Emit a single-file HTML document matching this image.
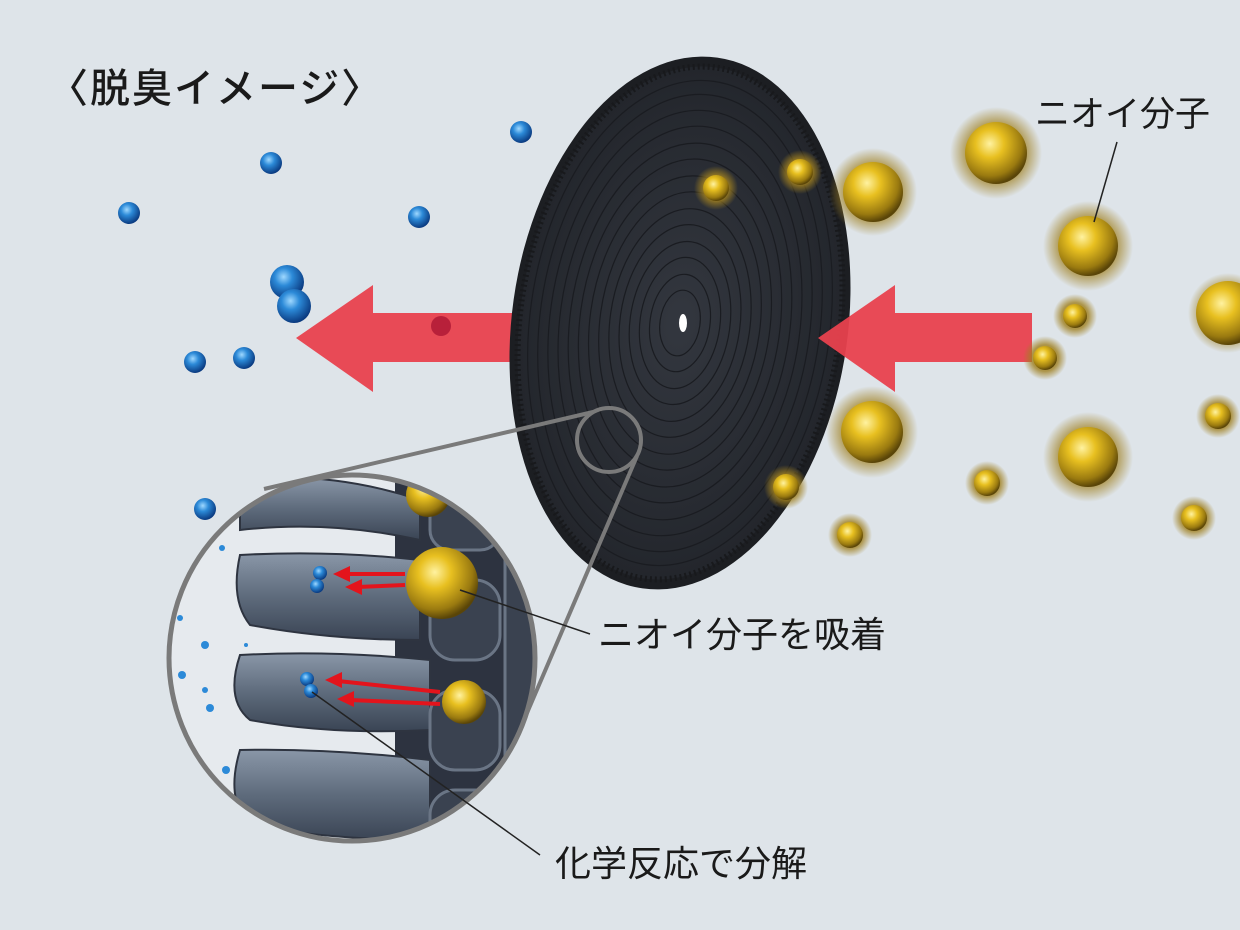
<!DOCTYPE html>
<html><head><meta charset="utf-8"><style>
html,body{margin:0;padding:0;background:#dee4e9;}
svg{display:block}
text{font-family:"Liberation Sans","Noto Sans CJK JP",sans-serif;fill:#1a1a1a}
</style></head><body>
<svg width="1240" height="930" viewBox="0 0 1240 930" xmlns="http://www.w3.org/2000/svg">
<defs>
<radialGradient id="gold" cx="0.4" cy="0.35" r="0.65">
<stop offset="0" stop-color="#fff2a0"/><stop offset="0.35" stop-color="#e8c020"/><stop offset="0.8" stop-color="#9a7a10"/><stop offset="1" stop-color="#5a4508"/></radialGradient>
<radialGradient id="halo" cx="0.5" cy="0.5" r="0.5">
<stop offset="0.6" stop-color="#a08020" stop-opacity="0.8"/><stop offset="1" stop-color="#a08020" stop-opacity="0"/></radialGradient>
<radialGradient id="blue" cx="0.4" cy="0.35" r="0.65">
<stop offset="0" stop-color="#9fd8ff"/><stop offset="0.4" stop-color="#2c8ad8"/><stop offset="1" stop-color="#0a3a80"/></radialGradient>
<radialGradient id="disk" cx="0.5" cy="0.5" r="0.5">
<stop offset="0" stop-color="#33373f"/><stop offset="1" stop-color="#23262c"/></radialGradient>
<clipPath id="mag"><circle cx="352" cy="658" r="183"/></clipPath>
<linearGradient id="fin" x1="0" y1="0" x2="0" y2="1">
<stop offset="0" stop-color="#8a97a8"/><stop offset="0.5" stop-color="#5e6b7c"/><stop offset="1" stop-color="#3a4454"/></linearGradient>
</defs>
<rect width="1240" height="930" fill="#dee4e9"/>
<text x="48" y="102" font-size="40" letter-spacing="2" font-weight="500">〈脱臭イメージ〉</text>

<g fill="url(#blue)">
<circle cx="521" cy="132" r="11"/><circle cx="271" cy="163" r="11"/><circle cx="129" cy="213" r="11"/>
<circle cx="419" cy="217" r="11"/><circle cx="287" cy="282" r="17"/><circle cx="294" cy="306" r="17"/>
<circle cx="195" cy="362" r="11"/><circle cx="244" cy="358" r="11"/><circle cx="205" cy="509" r="11"/>
</g>

<polygon points="296,338 373,285 373,313 512,313 512,362 373,362 373,392" fill="#e8414e" opacity="0.95"/>
<circle cx="441" cy="326" r="10" fill="#b8203a"/>

<ellipse cx="680" cy="323" rx="168" ry="268" transform="rotate(8 680 323)" fill="#1c1e22"/>
<ellipse cx="680" cy="323" rx="160" ry="258" transform="rotate(8 680 323)" fill="url(#disk)" stroke="#18191c" stroke-width="6" stroke-dasharray="2 3"/>
<g fill="none" stroke="#1a1c21" stroke-width="1.2" transform="rotate(8 680 323)">
<ellipse cx="680" cy="323" rx="150" ry="244"/><ellipse cx="680" cy="323" rx="140" ry="230"/><ellipse cx="680" cy="323" rx="130" ry="214"/><ellipse cx="680" cy="323" rx="120" ry="198"/><ellipse cx="680" cy="323" rx="110" ry="181"/>
<ellipse cx="680" cy="323" rx="100" ry="165"/><ellipse cx="680" cy="323" rx="90" ry="148"/><ellipse cx="680" cy="323" rx="80" ry="132"/><ellipse cx="680" cy="323" rx="70" ry="115"/>
<ellipse cx="680" cy="323" rx="60" ry="99"/><ellipse cx="680" cy="323" rx="50" ry="82"/><ellipse cx="680" cy="323" rx="40" ry="66"/><ellipse cx="680" cy="323" rx="30" ry="49"/><ellipse cx="680" cy="323" rx="20" ry="33"/>
</g>
<ellipse cx="683" cy="323" rx="4" ry="9" fill="#fff"/>

<polygon points="818,338 895,285 895,313 1032,313 1032,362 895,362 895,392" fill="#e8414e" opacity="0.95"/>

<g>
<g transform="translate(716,188)"><circle r="22" fill="url(#halo)"/><circle r="13" fill="url(#gold)"/></g>
<g transform="translate(800,172)"><circle r="22" fill="url(#halo)"/><circle r="13" fill="url(#gold)"/></g>
<g transform="translate(873,192)"><circle r="44" fill="url(#halo)"/><circle r="30" fill="url(#gold)"/></g>
<g transform="translate(996,153)"><circle r="46" fill="url(#halo)"/><circle r="31" fill="url(#gold)"/></g>
<g transform="translate(1088,246)"><circle r="45" fill="url(#halo)"/><circle r="30" fill="url(#gold)"/></g>
<g transform="translate(1228,313)"><circle r="40" fill="url(#halo)"/><circle r="32" fill="url(#gold)"/></g>
<g transform="translate(1075,316)"><circle r="22" fill="url(#halo)"/><circle r="12" fill="url(#gold)"/></g>
<g transform="translate(1045,358)"><circle r="22" fill="url(#halo)"/><circle r="12" fill="url(#gold)"/></g>
<g transform="translate(1218,416)"><circle r="22" fill="url(#halo)"/><circle r="13" fill="url(#gold)"/></g>
<g transform="translate(872,432)"><circle r="46" fill="url(#halo)"/><circle r="31" fill="url(#gold)"/></g>
<g transform="translate(1088,457)"><circle r="45" fill="url(#halo)"/><circle r="30" fill="url(#gold)"/></g>
<g transform="translate(987,483)"><circle r="22" fill="url(#halo)"/><circle r="13" fill="url(#gold)"/></g>
<g transform="translate(786,487)"><circle r="22" fill="url(#halo)"/><circle r="13" fill="url(#gold)"/></g>
<g transform="translate(1194,518)"><circle r="22" fill="url(#halo)"/><circle r="13" fill="url(#gold)"/></g>
<g transform="translate(850,535)"><circle r="22" fill="url(#halo)"/><circle r="13" fill="url(#gold)"/></g>
</g>
<text x="1035" y="126" font-size="35">ニオイ分子</text>
<line x1="1117" y1="142" x2="1094" y2="222" stroke="#222" stroke-width="1.5"/>

<circle cx="609" cy="440" r="32" fill="none" stroke="#7a7a7a" stroke-width="4"/>
<line x1="593" y1="412" x2="264" y2="489" stroke="#7a7a7a" stroke-width="4"/>
<line x1="637" y1="456" x2="521" y2="727" stroke="#7a7a7a" stroke-width="4"/>
<circle cx="352" cy="658" r="183" fill="#e6eaee"/>
<g clip-path="url(#mag)">
<rect x="395" y="470" width="150" height="380" fill="#2d3340"/>
<g fill="url(#fin)" stroke="#2e3440" stroke-width="2">
<path d="M240 480 Q330 470 420 500 L420 540 Q330 520 240 530 Z"/>
<path d="M240 555 Q230 600 250 625 Q330 640 420 640 L420 560 Q330 550 240 555 Z"/>
<path d="M240 655 Q225 700 250 720 Q330 735 430 730 L430 660 Q330 650 240 655 Z"/>
<path d="M240 750 Q225 800 250 825 Q330 840 430 840 L430 760 Q330 748 240 750 Z"/>
</g>
<g fill="#3a4250" stroke="#6a7585" stroke-width="3">
<rect x="430" y="480" width="70" height="70" rx="20"/><rect x="430" y="580" width="70" height="80" rx="25"/>
<rect x="430" y="690" width="70" height="80" rx="25"/><rect x="430" y="790" width="70" height="70" rx="25"/>
<rect x="505" y="500" width="40" height="340" rx="15"/>
</g>
<circle cx="428" cy="495" r="22" fill="url(#gold)"/>
<g fill="#2c8ad8"><circle cx="180" cy="618" r="3"/><circle cx="205" cy="645" r="4"/><circle cx="182" cy="675" r="4"/><circle cx="205" cy="690" r="3"/><circle cx="210" cy="708" r="4"/><circle cx="226" cy="770" r="4"/><circle cx="246" cy="645" r="2"/><circle cx="222" cy="548" r="3"/></g>
</g>
<circle cx="352" cy="658" r="183" fill="none" stroke="#7a7a7a" stroke-width="5"/>
<g fill="url(#blue)"><circle cx="320" cy="573" r="7"/><circle cx="317" cy="586" r="7"/><circle cx="307" cy="679" r="7"/><circle cx="311" cy="691" r="7"/></g>
<g stroke="#e3141c" stroke-width="4" fill="#e3141c">
<line x1="405" y1="574" x2="345" y2="574"/><polygon points="333,574 350,566 350,582" stroke="none"/>
<line x1="405" y1="585" x2="357" y2="587"/><polygon points="345,587 362,579 362,595" stroke="none"/>
<line x1="440" y1="692" x2="338" y2="681"/><polygon points="325,680 342,672 342,688" stroke="none"/>
<line x1="440" y1="704" x2="350" y2="700"/><polygon points="337,699 354,691 354,707" stroke="none"/>
</g>
<circle cx="442" cy="583" r="36" fill="url(#gold)"/>
<circle cx="464" cy="702" r="22" fill="url(#gold)"/>
<line x1="460" y1="590" x2="590" y2="634" stroke="#222" stroke-width="1.5"/>
<line x1="312" y1="692" x2="540" y2="855" stroke="#222" stroke-width="1.5"/>
<text x="598" y="647" font-size="36">ニオイ分子を吸着</text>
<text x="555" y="876" font-size="36">化学反応で分解</text>
</svg>
</body></html>
